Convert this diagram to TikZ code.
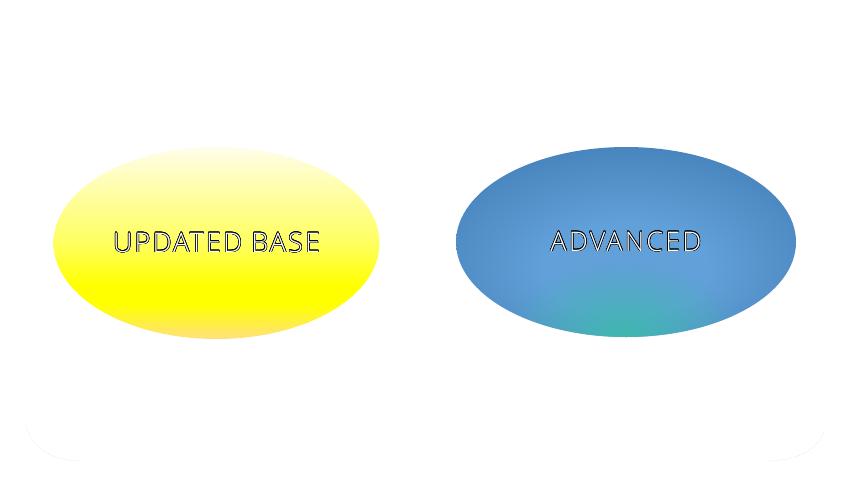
\documentclass[tikz,border=0pt]{standalone}
\usepackage{tikz}
\usepackage{xcolor}
\usepackage{fontspec}
\usepackage{contour}
\IfFontExistsTF{Open Sans Light}
	{\newfontfamily\labelfont[LetterSpace=8]{Open Sans Light}}
	{\newfontfamily\labelfont[LetterSpace=8]{Open Sans}}
\usetikzlibrary{shapes.geometric,
	fadings,
	positioning}
\contourlength{0.55pt}
\definecolor{baseTop}{HTML}{FFFDEA}
\definecolor{baseMid}{HTML}{FFFF60}
\definecolor{baseLow}{HTML}{FFFF00}
\definecolor{baseBot}{HTML}{FFE07E}
\definecolor{advEdge}{HTML}{3670A8}
\definecolor{advMid}{HTML}{62A0D9}
\definecolor{advGlow}{HTML}{40B8B0}
\pgfdeclareverticalshading{baseshade}{100bp}{color(0bp)=(baseBot); color(25bp)=(baseBot); color(34bp)=(baseLow); color(39bp)=(baseLow); color(50bp)=(baseMid); color(62bp)=(baseMid!55!baseTop); color(75bp)=(baseTop); color(100bp)=(baseTop)}
\pgfdeclareradialshading{advshade}{\pgfpoint{0bp}{-8bp}}{color(0bp)=(advMid); color(12bp)=(advMid); color(30bp)=(advMid!45!advEdge); color(44bp)=(advEdge); color(100bp)=(advEdge)}
\tikzfading[name=glowfade, inner color=transparent!0, outer color=transparent!100]

\begin{document}
\begin{tikzpicture}[x=1pt, y=-1pt,
	blob/.style={ellipse, inner sep=0pt},
	caption/.style={font=\labelfont\fontsize{27}{30}\selectfont},
	corner/.style={gray!35, densely dotted, thin}]
	\useasboundingbox (0, 0) rectangle (853, 480);
	\node[blob, minimum width=326pt, minimum height=192pt, shading=baseshade] (baseShape) at (216.5, 243) {};
	\node[blob, minimum width=340pt, minimum height=190pt, shading=advshade] (advShape) at (626, 242) {};
	% teal glow at the bottom of the blue one
	\begin{scope}
		\clip (advShape.center) ellipse (170 and 95);
		\fill[advGlow, path fading=glowfade] (623, 334) ellipse (120 and 72);
	\end{scope}
	\node[caption] (base) at (baseShape.center) {\contour{black}{\textcolor{white}{UPDATED BASE}}};
	\node[caption] (adv) at (advShape.center) {\contour{black}{\textcolor{white}{ADVANCED}}};
	% faint frame corners
	\coordinate (bl1) at (26, 426);
	\coordinate (bl2) at (82, 461);
	\coordinate (br1) at (768, 461);
	\coordinate (br2) at (824, 431);
	\draw[corner] (bl1) .. controls (32, 450) and (55, 461) .. (bl2);
	\draw[corner] (br1) .. controls (795, 461) and (818, 450) .. (br2);
\end{tikzpicture}
\end{document}
